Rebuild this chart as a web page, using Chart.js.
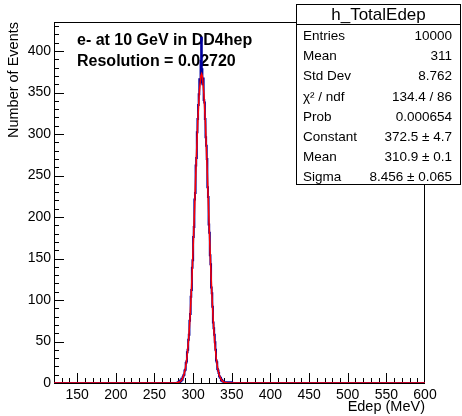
<!DOCTYPE html>
<html>
<head>
<meta charset="utf-8">
<script src="https://cdn.jsdelivr.net/npm/chart.js@4/dist/chart.umd.min.js"></script>
<style>
  html, body { margin: 0; padding: 0; background: #fff; }
  canvas { display: block; }
</style>
</head>
<body>
<canvas id="edepChart" width="462" height="416"></canvas>
<script>
// histogram range and binning (h_TotalEdep)
const histMin = 120;
const histMax = 600;
const binWidth = 0.8;
const firstBinLow = 278.4;

// bin contents, starting at firstBinLow
const counts = [
    0, 0, 1, 0, 2, 1, 3, 2, 5, 4,
    7, 9, 10, 15, 16, 24, 26, 37, 40, 52,
    58, 75, 83, 104, 112, 139, 148, 176, 188, 221,
    229, 262, 271, 302, 318, 335, 348, 366, 362, 388,
    416, 378, 360, 367, 341, 338, 318, 296, 286, 270,
    236, 224, 191, 181, 154, 143, 115, 108, 92, 73,
    66, 58, 49, 40, 27, 25, 17, 15, 12, 8,
    7, 6, 3, 4, 2, 2, 1, 1, 0, 1,
    0, 1, 0, 0, 1, 0, 0, 1, 0, 1
];

// gaussian fit curve as drawn (x in MeV, y in events)
const fitX = [120, 276, 278, 280, 282, 284, 286, 288, 290, 292, 294, 296, 298, 300, 302, 304, 306, 308, 310, 311,
              312, 314, 316, 318, 320, 322, 324, 326, 328, 330, 332, 334, 336, 338, 340, 342, 344, 346, 600];
const fitY = [0, 0.1, 0.2, 0.5, 1.1, 2.4, 4.9, 9.5, 17.6, 30.6, 50.4, 78.9, 116.6, 162.3, 214, 267, 315, 351, 370, 372.5,
              369.4, 348, 310.6, 262, 208.7, 157, 112.2, 75.6, 48.2, 29, 16.6, 8.9, 4.6, 2.2, 1.0, 0.4, 0.2, 0.1, 0];

const xTicks = [150, 200, 250, 300, 350, 400, 450, 500, 550, 600];
const yTicks = [0, 50, 100, 150, 200, 250, 300, 350, 400];
const yMax = 435;

const statsTitle = 'h_TotalEdep';
const statsNames = ['Entries', 'Mean', 'Std Dev', 'χ² / ndf', 'Prob', 'Constant', 'Mean', 'Sigma'];
const statsValues = ['10000', '311', '8.762', '134.4 / 86', '0.000654', '372.5 ± 4.7', '310.9 ± 0.1', '8.456 ± 0.065'];

const noteLines = ['e- at 10 GeV in DD4hep', 'Resolution = 0.02720'];

const font = 'Liberation Sans, Arial, Helvetica, sans-serif';

// build histogram outline: one point per bin low edge, stepped
function histPoints() {
    const pts = [{x: histMin, y: 0}];
    counts.forEach((c, i) => pts.push({x: firstBinLow + i * binWidth, y: c}));
    pts.push({x: firstBinLow + counts.length * binWidth, y: 0});
    pts.push({x: histMax, y: 0});
    return pts;
}

// frame, inward ticks and the text box, ROOT style
const rootFrame = {
    id: 'rootFrame',
    beforeDatasetsDraw(chart) {
        const {ctx, chartArea: a, scales: {x, y}} = chart;
        ctx.save();
        ctx.strokeStyle = '#000';
        ctx.lineWidth = 1;
        ctx.strokeRect(a.left + 0.5, a.top + 0.5, a.right - a.left - 1, a.bottom - a.top);

        ctx.beginPath();
        for (let v = histMin + 10; v < histMax; v += 10) {
            const px = Math.round(x.getPixelForValue(v)) + 0.5;
            const len = v % 50 === 0 ? 10 : 5;
            ctx.moveTo(px, a.bottom);
            ctx.lineTo(px, a.bottom - len);
        }
        for (let v = 10; v < yMax; v += 10) {
            const py = Math.round(y.getPixelForValue(v)) + 0.5;
            const len = v % 50 === 0 ? 10 : 5;
            ctx.moveTo(a.left, py);
            ctx.lineTo(a.left + len, py);
        }
        ctx.stroke();

        ctx.fillStyle = '#000';
        ctx.font = 'bold 16px ' + font;
        ctx.textBaseline = 'middle';
        ctx.textAlign = 'left';
        ctx.fillText(noteLines[0], 77, 41);
        ctx.fillText(noteLines[1], 77, 62);
        ctx.restore();
    },
    afterDraw(chart) {
        const {ctx} = chart;
        const bx = 296.5, by = 4.5, bw = 164, bh = 180;
        ctx.save();
        ctx.fillStyle = '#fff';
        ctx.fillRect(bx, by, bw, bh);
        ctx.strokeStyle = '#000';
        ctx.lineWidth = 1;
        ctx.strokeRect(bx, by, bw, bh);
        ctx.beginPath();
        ctx.moveTo(bx, 24.5);
        ctx.lineTo(bx + bw, 24.5);
        ctx.stroke();

        ctx.fillStyle = '#000';
        ctx.textBaseline = 'middle';
        ctx.textAlign = 'center';
        ctx.font = '17px ' + font;
        ctx.fillText(statsTitle, bx + bw / 2, 15);

        ctx.font = '13.5px ' + font;
        statsNames.forEach((name, i) => {
            const ty = 36.5 + i * 20.1;
            ctx.textAlign = 'left';
            ctx.fillText(name, 303, ty);
            ctx.textAlign = 'right';
            ctx.fillText(statsValues[i], 452, ty);
        });
        ctx.restore();
    }
};

window.onload = () => {
    const ctx = document.getElementById('edepChart').getContext('2d');
    new Chart(ctx, {
        type: 'line',
        data: {
            datasets: [{
                label: 'h_TotalEdep',
                data: histPoints(),
                borderColor: '#0000a0',
                borderWidth: 2,
                stepped: 'before',
                pointRadius: 0,
                fill: false,
                order: 2
            }, {
                label: 'gaus fit',
                data: fitX.map((v, i) => ({x: v, y: fitY[i]})),
                borderColor: '#ff0000',
                borderWidth: 1.5,
                tension: 0,
                pointRadius: 0,
                fill: false,
                order: 1
            }]
        },
        options: {
            responsive: false,
            animation: false,
            layout: {padding: {top: 22, right: 37, left: 0, bottom: 0}},
            plugins: {
                legend: {display: false},
                tooltip: {enabled: false}
            },
            scales: {
                x: {
                    type: 'linear',
                    min: histMin,
                    max: histMax,
                    afterBuildTicks: s => { s.ticks = xTicks.map(v => ({value: v})); },
                    afterFit: s => { s.height = 33; },
                    grid: {display: false, drawTicks: false},
                    border: {display: false},
                    ticks: {
                        padding: 4,
                        color: '#000',
                        maxRotation: 0,
                        autoSkip: false,
                        font: {family: font, size: 14}
                    },
                    title: {
                        display: true,
                        text: 'Edep (MeV)',
                        align: 'end',
                        color: '#000',
                        padding: {top: 0, bottom: 0},
                        font: {family: font, size: 14.5, lineHeight: 1.2}
                    }
                },
                y: {
                    min: 0,
                    max: yMax,
                    afterBuildTicks: s => { s.ticks = yTicks.map(v => ({value: v})); },
                    afterFit: s => { s.width = 54; },
                    grid: {display: false, drawTicks: false},
                    border: {display: false},
                    ticks: {
                        padding: 3,
                        color: '#000',
                        autoSkip: false,
                        font: {family: font, size: 14}
                    },
                    title: {
                        display: true,
                        text: 'Number of Events',
                        align: 'end',
                        color: '#000',
                        padding: {top: 5, bottom: 0},
                        font: {family: font, size: 14.5, lineHeight: 1.2}
                    }
                }
            }
        },
        plugins: [rootFrame]
    });
};
</script>
</body>
</html>
